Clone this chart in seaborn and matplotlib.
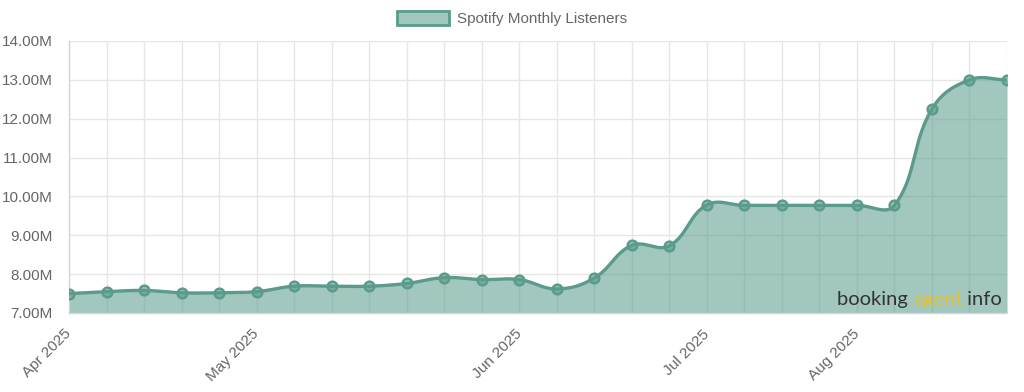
import numpy as np
import pandas as pd
import seaborn as sns
import matplotlib
matplotlib.use("Agg")
import matplotlib.pyplot as plt
from matplotlib.patches import Patch
from matplotlib.offsetbox import TextArea, HPacker, AnchoredOffsetbox

# ---------------- data ----------------
week_index = list(range(26))
listeners_m = [7.50, 7.55, 7.58, 7.52, 7.52, 7.55, 7.69, 7.69, 7.69, 7.76,
               7.91, 7.86, 7.86, 7.62, 7.90, 8.74, 8.73, 9.78, 9.77, 9.77,
               9.77, 9.77, 9.77, 12.25, 13.00, 13.00]
tick_positions = [0, 5, 12, 17, 21]
tick_labels = ["Apr 2025", "May 2025", "Jun 2025", "Jul 2025", "Aug 2025"]
y_ticks = [7, 8, 9, 10, 11, 12, 13, 14]
series_name = "Spotify Monthly Listeners"

LINE = "#5a9b8c"
FILL_ALPHA = 0.56
GRID = "#e6e6e6"
TXT = "#666666"

sns.set_theme(style="white")
plt.rcParams["font.family"] = ["Liberation Sans", "DejaVu Sans"]

fig = plt.figure(figsize=(10.24, 3.92), dpi=100)
ax = fig.add_axes([69 / 1024, 1 - 313 / 392, (1007 - 69) / 1024, (313 - 41) / 392])

# ---- Chart.js-like spline (tension 0.4), computed in pixel-ish space ----
sx, sy = 37.52, 38.86
xp = np.array(week_index, float) * sx
yp = np.array(listeners_m, float) * sy
n = len(xp)
prev_c = np.zeros((n, 2))
next_c = np.zeros((n, 2))
t = 0.4
for i in range(n):
    a = max(i - 1, 0)
    b = min(i + 1, n - 1)
    d01 = np.hypot(xp[i] - xp[a], yp[i] - yp[a])
    d12 = np.hypot(xp[b] - xp[i], yp[b] - yp[i])
    tot = d01 + d12
    s01 = d01 / tot if tot else 0
    s12 = d12 / tot if tot else 0
    fa, fb = t * s01, t * s12
    prev_c[i] = (xp[i] - fa * (xp[b] - xp[a]), yp[i] - fa * (yp[b] - yp[a]))
    next_c[i] = (xp[i] + fb * (xp[b] - xp[a]), yp[i] + fb * (yp[b] - yp[a]))

cx, cy = [], []
tt = np.linspace(0, 1, 40)
for i in range(n - 1):
    P0 = np.array([xp[i], yp[i]])
    P1 = next_c[i]
    P2 = prev_c[i + 1]
    P3 = np.array([xp[i + 1], yp[i + 1]])
    pts = ((1 - tt) ** 3)[:, None] * P0 + (3 * (1 - tt) ** 2 * tt)[:, None] * P1 \
        + (3 * (1 - tt) * tt ** 2)[:, None] * P2 + (tt ** 3)[:, None] * P3
    if i > 0:
        pts = pts[1:]
    cx.extend(pts[:, 0] / sx)
    cy.extend(pts[:, 1] / sy)
cx = np.array(cx)
cy = np.clip(np.array(cy), 7, 14)

curve = pd.DataFrame({"x": cx, "y": cy})
points = pd.DataFrame({"x": week_index, "y": listeners_m})

fill_rgba = matplotlib.colors.to_rgba(LINE, FILL_ALPHA)
ax.fill_between(cx, 7, cy, color=fill_rgba, lw=0, zorder=2)
sns.lineplot(data=curve, x="x", y="y", sort=False, estimator=None,
             color=LINE, lw=2.4, ax=ax, zorder=3)
sns.scatterplot(data=points, x="x", y="y", s=48, color=fill_rgba,
                edgecolor=LINE, linewidth=1.8, ax=ax, zorder=4)

# ---- axes styling ----
ax.set_xlim(0, 25)
ax.set_ylim(7, 14)
ax.set_xticks(week_index)
lbl = {p: l for p, l in zip(tick_positions, tick_labels)}
ax.set_xticklabels([lbl.get(i, "") for i in week_index], rotation=45,
                   ha="right", va="center", rotation_mode="anchor",
                   color=TXT, fontsize=11)
ax.set_yticks(y_ticks)
ax.set_yticklabels([f"{v:.2f}M" for v in y_ticks], color=TXT, fontsize=11)
ax.set_xlabel("")
ax.set_ylabel("")
ax.set_axisbelow(True)
ax.grid(True, color=GRID, lw=1)
ax.tick_params(axis="both", length=7.5, width=1, color=GRID)
ax.tick_params(axis="y", pad=4.5)
ax.tick_params(axis="x", pad=6)
for s in ["top", "right"]:
    ax.spines[s].set_visible(False)
for s in ["left", "bottom"]:
    ax.spines[s].set_color("#d6d6d6")
    ax.spines[s].set_linewidth(1)

# ---- legend ----
handle = Patch(facecolor=fill_rgba, edgecolor=LINE, linewidth=2)
fig.legend([handle], [series_name], loc="upper center", bbox_to_anchor=(0.5, 1.0),
           frameon=False, fontsize=11, handlelength=3.4, handleheight=1.1,
           handletextpad=0.5, labelcolor=TXT, borderaxespad=0.3)

# ---- watermark ----
wm_kw = dict(fontsize=14.5, family=["Lato", "DejaVu Sans"])
parts = [TextArea("booking ", textprops=dict(color="#333333", **wm_kw)),
         TextArea("agent", textprops=dict(color="#e3c234", **wm_kw)),
         TextArea(" info", textprops=dict(color="#333333", **wm_kw))]
box = HPacker(children=parts, align="baseline", pad=0, sep=0)
anch = AnchoredOffsetbox(loc="lower right", child=box, frameon=False,
                         bbox_to_anchor=(1002 / 1024, 1 - 308 / 392),
                         bbox_transform=fig.transFigure, borderpad=0, pad=0)
anch.set_zorder(6)
ax.add_artist(anch)

fig.savefig("out.png", dpi=100)
